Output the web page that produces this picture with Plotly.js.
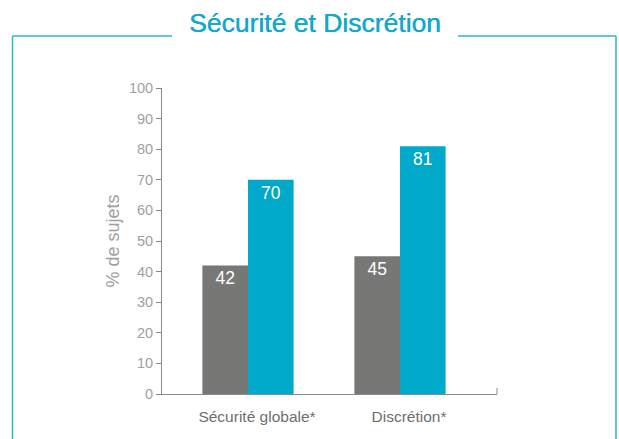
<!DOCTYPE html>
<html><head><meta charset="utf-8">
<script src="https://cdn.plot.ly/plotly-3.0.1.min.js"></script>
<style>html,body{margin:0;padding:0;background:#fff}#chart{width:619px;height:439px}</style>
</head><body><div id="chart"></div>
<script>
const categories = ["Sécurité globale*", "Discrétion*"];
const seriesGray = [42, 45];
const seriesTeal = [70, 81];
const yTicks = [0,10,20,30,40,50,60,70,80,90,100];

const W = 619, H = 439;
const L = 162, R = 497, T = 88, B = 394;
const px = v => (v - L) / (R - L);
const py = v => (B - v) / (B - T);
const frameColor = "#2cb4d4";
const FONT = "Liberation Sans, Arial, sans-serif";

const mk = (vals, color) => ({
  type: "bar", x: [0,1], y: vals, marker: {color: color},
  text: vals.map(String), textposition: "inside", insidetextanchor: "end",
  textfont: {family: FONT, size: 17.5, color: "#ffffff"},
  hoverinfo: "skip", cliponaxis: false
});

const data = [mk(seriesGray, "#777776"), mk(seriesTeal, "#00a8ca")];

const layout = {
  width: W, height: H,
  margin: {l: L, r: W - R, t: T, b: H - B, pad: 0},
  paper_bgcolor: "#fff", plot_bgcolor: "#fff",
  showlegend: false,
  barmode: "group", bargap: 0.4, bargroupgap: 0,
  font: {family: FONT},
  xaxis: {
    range: [(L - 248) / 152, (R - 248) / 152],
    tickvals: [0, 1], ticktext: categories,
    showline: true, linecolor: "#8a8a8a", linewidth: 1,
    ticks: "", showgrid: false, zeroline: false,
    ticklabelshift: 9, ticklabelstandoff: 8,
    tickfont: {size: 15.5, color: "#6e6e6e"}, fixedrange: true
  },
  yaxis: {
    range: [0, 100], tickvals: yTicks,
    showline: true, linecolor: "#8a8a8a", linewidth: 1,
    ticks: "outside", ticklen: 5, tickcolor: "#8a8a8a", tickwidth: 1,
    showgrid: false, zeroline: false,
    tickfont: {size: 14.5, color: "#9f9f9f"},
    title: {text: "% de sujets", font: {size: 18, color: "#a0a0a0"}, standoff: 4},
    fixedrange: true
  },
  annotations: [{
    text: "Sécurité et Discrétion", xref: "paper", yref: "paper",
    x: px(314.5), y: py(23), xanchor: "center", yanchor: "middle", showarrow: false,
    font: {family: FONT, size: 26.5, color: "#12a9cc", shadow: "0.4px 0 0 #12a9cc"}
  }],
  shapes: [
    {type: "line", xref: "paper", yref: "paper", x0: px(12.5), x1: px(12.5), y0: py(36), y1: py(445), line: {color: frameColor, width: 1.5}},
    {type: "line", xref: "paper", yref: "paper", x0: px(616), x1: px(616), y0: py(36), y1: py(445), line: {color: frameColor, width: 1.5}},
    {type: "line", xref: "paper", yref: "paper", x0: px(12.5), x1: px(172), y0: py(36), y1: py(36), line: {color: frameColor, width: 1.5}},
    {type: "line", xref: "paper", yref: "paper", x0: px(458), x1: px(616), y0: py(36), y1: py(36), line: {color: frameColor, width: 1.5}},
    {type: "line", xref: "paper", yref: "paper", x0: 1, x1: 1, y0: 0, y1: py(388), line: {color: "#8a8a8a", width: 1}}
  ]
};

Plotly.newPlot("chart", data, layout, {displayModeBar: false, staticPlot: true});
</script></body></html>
